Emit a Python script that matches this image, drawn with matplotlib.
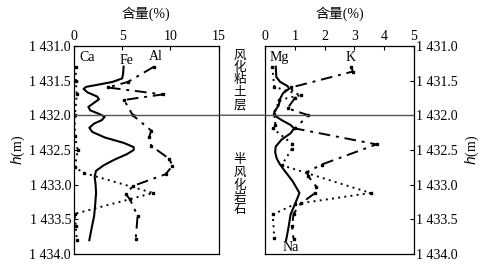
import numpy as np
import matplotlib.pyplot as plt
from matplotlib.patches import ConnectionPatch

plt.rcParams['font.family'] = ['Liberation Serif', 'Noto Sans CJK SC']
plt.rcParams['font.size'] = 10

# left panel (depth in m, content in %)
fe_depth = [1431.30, 1431.40, 1431.47, 1431.52, 1431.56, 1431.59, 1431.62, 1431.67, 1431.73,
            1431.77, 1431.82, 1431.88, 1431.93, 1431.98, 1432.02, 1432.07, 1432.12, 1432.18,
            1432.24, 1432.32, 1432.40, 1432.46, 1432.50, 1432.56, 1432.64, 1432.72, 1432.80,
            1432.88, 1433.00, 1433.12, 1433.30, 1433.45, 1433.62, 1433.80]
fe_val = [5.15, 5.1, 5.0, 4.0, 2.5, 1.3, 1.0, 1.4, 2.4, 2.6, 2.1, 1.5, 1.7, 2.6, 3.2, 2.9, 2.1,
          1.6, 1.9, 3.2, 5.2, 6.2, 6.2, 5.5, 4.2, 3.1, 2.3, 2.15, 2.25, 2.3, 2.2, 2.1, 1.85, 1.6]

ca_depth = [1431.30, 1431.50, 1431.70, 1432.00, 1432.30, 1432.50, 1432.75, 1432.83, 1433.12,
            1433.42, 1433.60, 1433.80]
ca_val = [0.2, 0.2, 0.3, 0.1, 0.1, 0.4, 0.1, 1.0, 8.2, 0.1, 0.2, 0.3]

al_depth = [1431.30, 1431.52, 1431.60, 1431.70, 1431.78, 1432.00, 1432.22, 1432.32, 1432.44,
            1432.63, 1432.73, 1432.85, 1433.02, 1433.14, 1433.21, 1433.45, 1433.79]
al_val = [8.3, 5.6, 3.5, 9.2, 5.2, 6.1, 8.0, 7.8, 8.0, 9.9, 10.2, 9.5, 6.1, 5.4, 5.8, 6.6, 6.4]

# right panel
na_depth = [1431.30, 1431.45, 1431.52, 1431.58, 1431.62, 1431.68, 1431.76, 1431.86, 1431.95,
            1432.00, 1432.07, 1432.14, 1432.19, 1432.26, 1432.35, 1432.45, 1432.53, 1432.62,
            1432.70, 1432.80, 1432.95, 1433.12, 1433.28, 1433.43, 1433.62, 1433.80]
na_val = [0.35, 0.37, 0.5, 0.75, 0.8, 0.6, 0.5, 0.45, 0.3, 0.3, 0.55, 0.85, 0.97, 0.85, 0.55,
          0.35, 0.33, 0.38, 0.48, 0.65, 0.92, 1.15, 1.0, 0.85, 0.78, 0.7]

mg_depth = [1431.30, 1431.59, 1431.71, 1431.78, 1431.98, 1432.14, 1432.19, 1432.41, 1432.48,
            1432.72, 1433.12, 1433.28, 1433.43, 1433.77]
mg_val = [0.23, 0.3, 1.2, 0.47, 0.3, 0.34, 0.25, 0.9, 0.9, 0.55, 3.55, 1.0, 0.25, 0.3]

k_depth = [1431.30, 1431.37, 1431.60, 1431.75, 1431.90, 1432.00, 1432.19, 1432.42, 1432.71,
           1432.82, 1432.88, 1433.03, 1433.12, 1433.27, 1433.42, 1433.60, 1433.78]
k_val = [2.9, 2.95, 0.87, 1.0, 0.75, 1.45, 1.0, 3.75, 1.9, 1.4, 1.45, 1.72, 1.68, 1.2, 0.95,
         0.9, 0.95]

yticks = [1431.0, 1431.5, 1432.0, 1432.5, 1433.0, 1433.5, 1434.0]
ytick_labels = ["1 431.0", "1 431.5", "1 432.0", "1 432.5", "1 433.0", "1 433.5", "1 434.0"]

fig = plt.figure(figsize=(4.86, 2.68), dpi=100)
ax1 = fig.add_axes([0.152, 0.052, 0.298, 0.777])
ax2 = fig.add_axes([0.546, 0.052, 0.305, 0.777])

dashdot = (0, (6, 3, 1.5, 3))
dotted = (0, (1, 2.2))

ax1.plot(fe_val, fe_depth, ls="-", lw=1.5, c="k")
ax1.plot(ca_val, ca_depth, ls=dotted, lw=1.4, c="k", marker="s", ms=1.8)
ax1.plot(al_val, al_depth, ls=dashdot, lw=1.4, c="k", marker="s", ms=1.8)

ax2.plot(na_val, na_depth, ls="-", lw=1.5, c="k")
ax2.plot(mg_val, mg_depth, ls=dotted, lw=1.4, c="k", marker="s", ms=1.8)
ax2.plot(k_val, k_depth, ls=dashdot, lw=1.4, c="k", marker="s", ms=1.8)

for ax, xmax, xt in [(ax1, 15, [0, 5, 10, 15]), (ax2, 5, [0, 1, 2, 3, 4, 5])]:
    ax.set_xlim(0, xmax)
    ax.set_ylim(1434.0, 1431.0)
    ax.set_xticks(xt)
    ax.xaxis.tick_top()
    ax.set_yticks(yticks)
    ax.set_yticklabels(ytick_labels)
    ax.tick_params(direction="in", length=3, width=0.8, labelsize=10, pad=2)
    ax.set_title("含量(%)", fontsize=10, pad=20)
    ax.axhline(1432.0, c="#555555", lw=1.0)
    for s in ax.spines.values():
        s.set_linewidth(0.9)

ax1.set_ylabel(r"$h$(m)", fontsize=10, labelpad=2)
ax2.yaxis.tick_right()
ax2.yaxis.set_label_position("right")
ax2.set_ylabel(r"$h$(m)", fontsize=10, labelpad=4, rotation=90)

con = ConnectionPatch(xyA=(15, 1432.0), coordsA=ax1.transData,
                      xyB=(0, 1432.0), coordsB=ax2.transData, color="#555555", lw=1.0)
fig.add_artist(con)

ax1.text(1.4, 1431.17, "Ca", ha="center", va="center", fontsize=10)
ax1.text(5.4, 1431.21, "Fe", ha="center", va="center", fontsize=10)
ax1.text(8.5, 1431.16, "Al", ha="center", va="center", fontsize=10)
ax2.text(0.46, 1431.17, "Mg", ha="center", va="center", fontsize=10)
ax2.text(2.88, 1431.17, "K", ha="center", va="center", fontsize=10)
ax2.text(0.87, 1433.90, "Na", ha="center", va="center", fontsize=10)

fig.text(240 / 486, 1 - 80 / 268, "\n".join("风化粘土层"), ha="center", va="center",
         fontsize=9, linespacing=0.95, family="Noto Sans CJK SC")
fig.text(240 / 486, 1 - 185 / 268, "\n".join("半风化岩石"), ha="center", va="center",
         fontsize=9, linespacing=0.95, family="Noto Sans CJK SC")

plt.savefig("out.png", dpi=100)
